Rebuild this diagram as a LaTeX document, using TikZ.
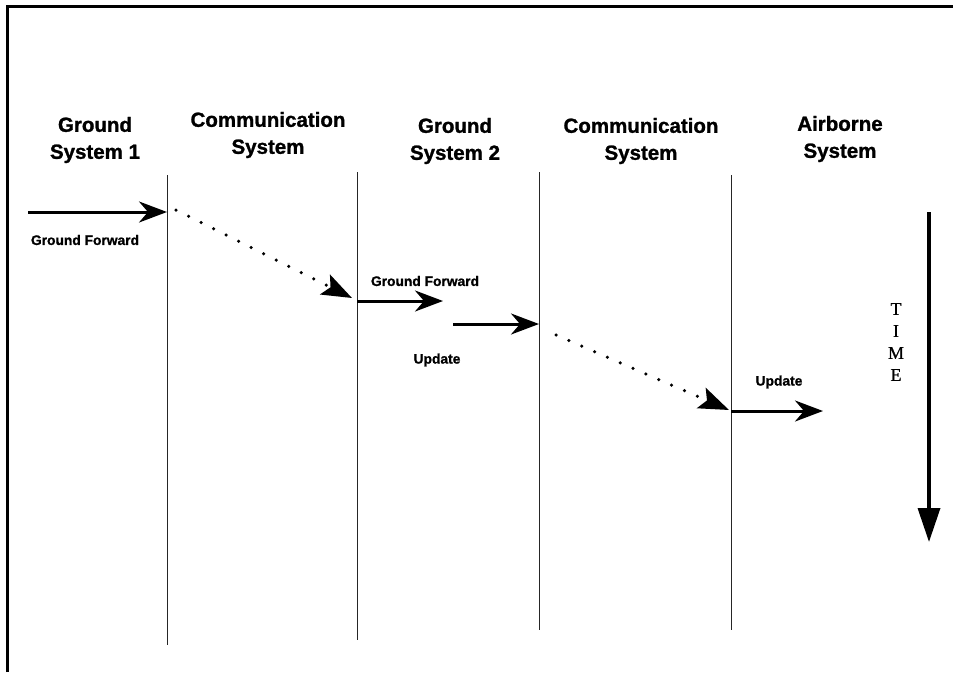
\documentclass[tikz,border=0pt]{standalone}
\usepackage{fontspec}
\setmainfont{Liberation Sans}
\newfontfamily\heavyfont{Liberation Sans Bold}[FakeBold=1.2]
\newfontfamily\timefont{Liberation Serif}[FakeBold=0.6]
\usetikzlibrary{arrows.meta}

\tikzset{
  lane/.style={line width=0.8pt, black!85},
  header/.style={font=\heavyfont\fontsize{20.5}{27}\selectfont, align=center},
  msglabel/.style={font=\heavyfont\fontsize{13.8}{15}\selectfont},
  msg/.style={line width=3pt, -{Stealth[length=28pt,width=21pt,inset=9pt]}},
  hop/.style={line width=3.5pt, line cap=round, dash pattern=on 0pt off 14pt,
    -{Stealth[length=30pt,width=22pt,inset=6pt]}},
}

\begin{document}
\begin{tikzpicture}[x=1pt,y=-1pt]
  \useasboundingbox (0,0) rectangle (953,672);
  % frame
  \draw[line width=3pt] (7,672) -- (7,6) -- (953,6);

  % system headers
  \node[header] (gs1)  at (95,140)  {Ground\\System 1};
  \node[header] (com1) at (268,135) {Communication\\System};
  \node[header] (gs2)  at (455,141) {Ground\\System 2};
  \node[header] (com2) at (641,141) {Communication\\System};
  \node[header] (air)  at (840,139) {Airborne\\System};

  % lanes
  \foreach \x/\t/\b [count=\i] in {167/175/645, 357/172/640, 539/172/630, 731/175/630} {
    \coordinate (top\i) at (\x,\t);
    \coordinate (bot\i) at (\x,\b);
    \draw[lane] (top\i) -- (bot\i);
  }

  % messages
  \coordinate (gfa) at (28,212);
  \coordinate (gfb) at (167,212);
  \coordinate (hopa) at (176,210);
  \coordinate (hopb) at (352,298);
  \coordinate (gfc) at (357,301);
  \coordinate (gfd) at (443,301);
  \coordinate (upa) at (453,324);
  \coordinate (upb) at (539,324);
  \coordinate (hopc) at (556,335);
  \coordinate (hopd) at (729,410);
  \coordinate (upc) at (731,411);
  \coordinate (upd) at (823,411);

  \draw[msg] (gfa) -- (gfb);
  \draw[hop] (hopa) -- (hopb);
  \draw[msg] (gfc) -- (gfd);
  \draw[msg] (upa) -- (upb);
  \draw[hop] (hopc) -- (hopd);
  \draw[msg] (upc) -- (upd);

  \node[msglabel] (lgf1) at (85,240)  {Ground Forward};
  \node[msglabel] (lgf2) at (425,281) {Ground Forward};
  \node[msglabel] (lup1) at (437,360) {Update};
  \node[msglabel] (lup2) at (779,382) {Update};

  % time axis
  \coordinate (tstart) at (929,212);
  \coordinate (tend) at (929,542);
  \draw[line width=3.5pt, -{Triangle[length=34pt,width=22pt]}] (tstart) -- (tend);
  \node[font=\timefont\fontsize{18}{22}\selectfont, align=center] (time) at (896,342) {T\\I\\M\\E};
\end{tikzpicture}
\end{document}
